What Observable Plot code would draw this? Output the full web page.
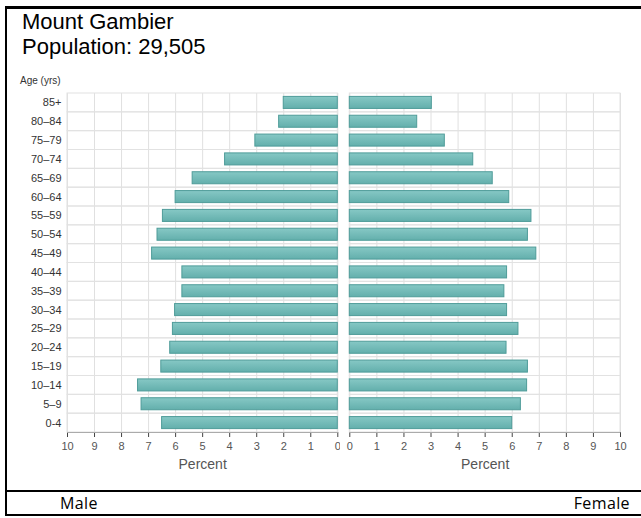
<!DOCTYPE html>
<html><head><meta charset="utf-8">
<script src="https://cdn.jsdelivr.net/npm/d3@7"></script>
<script src="https://cdn.jsdelivr.net/npm/@observablehq/plot@0.6"></script>
<style>
body{margin:0;background:#fff;}
#wrap{position:relative;width:641px;height:518px;overflow:hidden;font-family:"Liberation Sans",Arial,sans-serif;background:#fff;}
.bd{position:absolute;background:#000;}
#title{position:absolute;left:22px;top:9px;font-size:22px;line-height:25px;color:#000;}
#age{position:absolute;left:20px;top:76px;font-size:10px;line-height:10px;color:#333;}
.foot{position:absolute;top:495px;font-family:"Open Sans",sans-serif;font-size:16px;line-height:16px;color:#000;letter-spacing:0.4px;}
.chart{position:absolute;top:80px;line-height:0;}
.chart svg{font-family:"Liberation Sans",Arial,sans-serif;}
</style></head>
<body>
<div id="wrap">
  <div id="title">Mount Gambier<br>Population: 29,505</div>
  <div id="age">Age (yrs)</div>
  <div id="left" class="chart" style="left:0px"></div>
  <div id="right" class="chart" style="left:340px"></div>
  <div class="foot" style="left:60px">Male</div>
  <div class="foot" style="right:11px">Female</div>
  <div class="bd" style="left:5px;top:6px;width:636px;height:3px"></div>
  <div class="bd" style="left:5px;top:6px;width:2px;height:510px"></div>
  <div class="bd" style="left:5px;top:490px;width:636px;height:2px"></div>
  <div class="bd" style="left:5px;top:514px;width:636px;height:2px"></div>
</div>
<script>
const ages = ["85+","80–84","75–79","70–74","65–69","60–64","55–59","50–54","45–49","40–44","35–39","30–34","25–29","20–24","15–19","10–14","5–9","0-4"];
const male = [2.0,2.17,3.05,4.17,5.37,6.0,6.47,6.67,6.87,5.75,5.75,6.02,6.1,6.2,6.53,7.39,7.26,6.5];
const female = [3.03,2.49,3.51,4.56,5.28,5.89,6.71,6.58,6.89,5.81,5.71,5.81,6.23,5.79,6.58,6.55,6.32,6.0];
const xTicks = [0,1,2,3,4,5,6,7,8,9,10];
const axisLabel = "Percent";

const H = 402, MT = 13, MB = 50;
const bw = (H - MT - MB) / ages.length;

function panel(values, opts) {
  const rows = ages.map((a, i) => ({age: a, v: values[i]}));
  const xMax = xTicks[xTicks.length - 1];
  const gid = "g" + opts.id;
  const chart = Plot.plot({
    width: opts.width,
    height: H,
    marginTop: MT,
    marginBottom: MB,
    marginLeft: opts.ml,
    marginRight: opts.mr,
    style: {background: "transparent", fontSize: "11px", color: "#444"},
    x: {domain: [0, xMax], reverse: opts.reverse, ticks: xTicks, tickFormat: d3.format("d"),
        tickSize: 5, tickPadding: 5, label: axisLabel, labelAnchor: "center", labelOffset: 36, labelArrow: "none"},
    y: {domain: ages, padding: 0, round: false, axis: opts.yAxis ? "left" : null, label: null, tickSize: 0, tickPadding: 6},
    marks: [
      Plot.gridX(xTicks, {stroke: "#e0e0e0", strokeOpacity: 1}),
      Plot.barX(ages, {x1: 0, x2: xMax, y: d => d, fill: "none", stroke: "#e2e2e2"}),
      Plot.barX(rows, {x: "v", y: "age", fill: `url(#${gid})`, stroke: "#4f9c99", strokeWidth: 1, insetTop: 3.4, insetBottom: 3.4}),
      Plot.ruleY([ages[ages.length - 1]], {dy: bw / 2, stroke: "#aaa"})
    ]
  });
  const svg = d3.select(chart);
  const g = svg.insert("defs", ":first-child").append("linearGradient")
    .attr("id", gid).attr("x1", 0).attr("x2", 0).attr("y1", 0).attr("y2", 1);
  g.append("stop").attr("offset", "0%").attr("stop-color", "#86c8c5");
  g.append("stop").attr("offset", "100%").attr("stop-color", "#63afac");
  svg.selectAll("text").each(function() {
    const t = d3.select(this);
    const s = t.text();
    if (s.includes(axisLabel)) {
      t.text(axisLabel).attr("font-size", 14).attr("fill", "#555");
    }
  });
  svg.selectAll('[aria-label="y-axis tick label"] text').attr("font-size", 11).attr("fill", "#333");
  svg.selectAll('[aria-label="x-axis tick label"] text').attr("font-size", 11).attr("fill", "#555");
  document.getElementById(opts.id).appendChild(chart);
}

panel(male, {id: "left", width: 340, ml: 67, mr: 2.7, reverse: true, yAxis: true});
panel(female, {id: "right", width: 301, ml: 9.3, mr: 21, reverse: false, yAxis: false});
</script>
</body></html>
